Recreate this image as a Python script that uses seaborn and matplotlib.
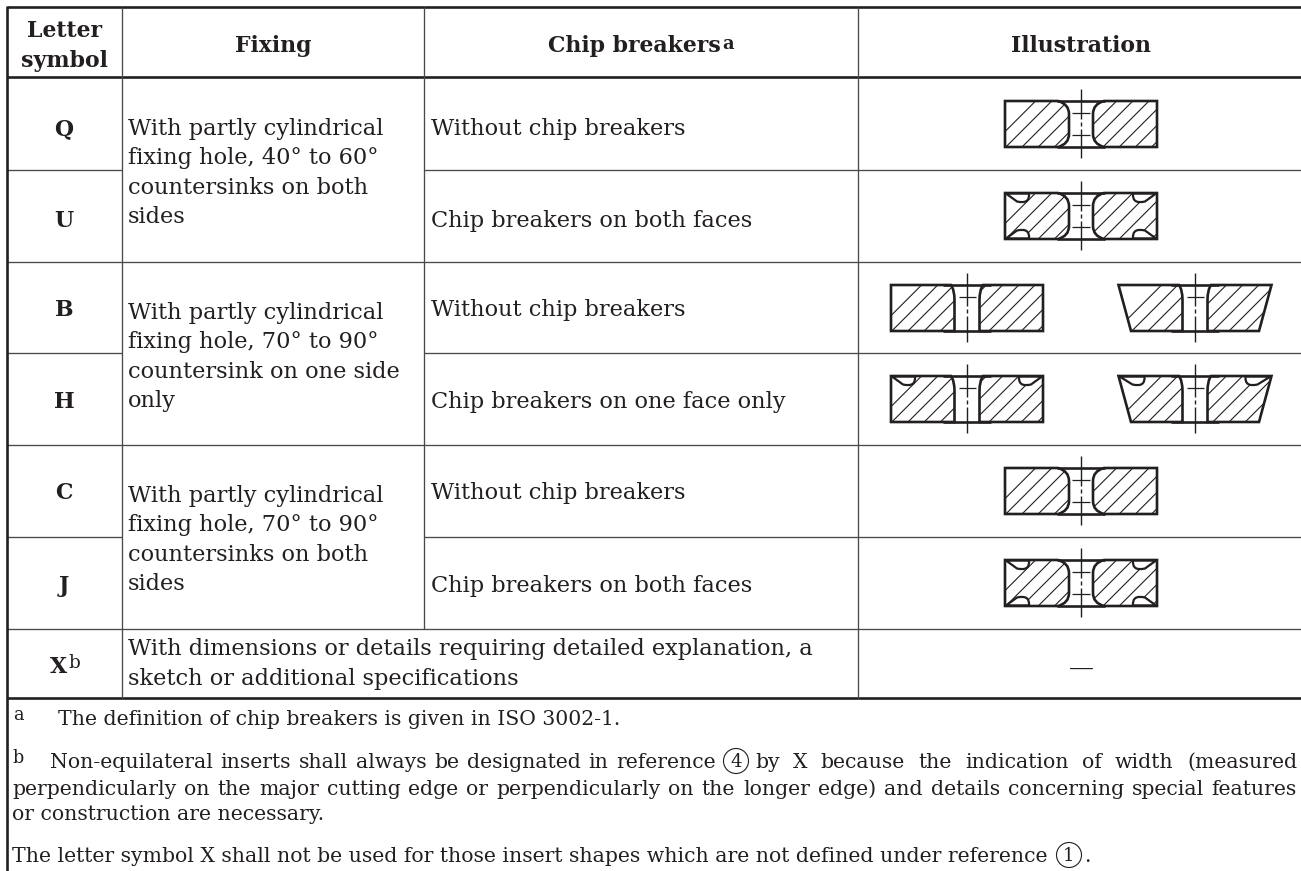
import matplotlib
matplotlib.use('Agg')
import matplotlib.pyplot as plt
import seaborn as sns
from matplotlib.path import Path
from matplotlib.patches import PathPatch, Ellipse

# table content
letters = ['Q', 'U', 'B', 'H', 'C', 'J']
breakers = ['Without chip breakers', 'Chip breakers on both faces',
            'Without chip breakers', 'Chip breakers on one face only',
            'Without chip breakers', 'Chip breakers on both faces']
fixing = [
    ['With partly cylindrical', 'fixing hole, 40° to 60°', 'countersinks on both', 'sides'],
    ['With partly cylindrical', 'fixing hole, 70° to 90°', 'countersink on one side', 'only'],
    ['With partly cylindrical', 'fixing hole, 70° to 90°', 'countersinks on both', 'sides'],
]
x_row_text = ['With dimensions or details requiring detailed explanation, a',
              'sketch or additional specifications']
note_a = 'The definition of chip breakers is given in ISO 3002-1.'
note_b1 = 'Non-equilateral inserts shall always be designated in reference'.split()
note_b2 = 'by X because the indication of width (measured'.split()
note_b3 = 'perpendicularly on the major cutting edge or perpendicularly on the longer edge) and details concerning special features'.split()
note_b4 = 'or construction are necessary.'
note_c = 'The letter symbol X shall not be used for those insert shapes which are not defined under reference'

# layout in image pixels
row_y = [77, 170, 262, 353, 445, 537, 629, 698]
col_x = [6.5, 122, 424, 858, 1301]
letter_base = [135, 227, 316, 408, 499, 592]
fix_base = [135, 319, 502]
INK = '#231f20'
RULE = '#4a4a4a'
BODY = 16.2
HEAD = 15.8
NOTE = 14.65

sns.set_theme(style='white')
plt.rcParams['font.family'] = ['DejaVu Serif']

fig, ax = plt.subplots(figsize=(13.01, 8.71), dpi=100)
ax.set_position([0, 0, 1, 1])
ax.set_xlim(0, 1301)
ax.set_ylim(871, 0)
ax.axis('off')


def stroke(xs, ys, lw=0.95, color=RULE, z=1):
    sns.lineplot(x=xs, y=ys, sort=False, estimator=None, color=color,
                 linewidth=lw, legend=False, ax=ax, zorder=z, solid_capstyle='butt')


def label(x, y, s, size=BODY, ha='left', weight='normal'):
    return ax.text(x, y, s, fontsize=size, ha=ha, va='baseline', color=INK, fontweight=weight)


def circled(cx, base, digit):
    ax.add_patch(Ellipse((cx, base - 7), 25, 25, fill=False, ec=INK, lw=0.8))
    label(cx, base - 1, digit, size=NOTE - 1.5, ha='center')


def justified(words, x0, x1, base, size=NOTE):
    # spread word gaps so the line fills x0..x1, like the justified source text
    rend = fig.canvas.get_renderer()
    widths = []
    for w in words:
        t = label(0, base, w, size=size)
        widths.append(t.get_window_extent(rend).width)
        t.remove()
    gap = (x1 - x0 - sum(widths)) / (len(words) - 1)
    x = x0
    for w, wd in zip(words, widths):
        label(x, base, w, size=size)
        x += wd + gap


def insert_paths(cx, top, hl_top, hl_bot, hole):
    # left and right material outlines of one section, hole curves included
    bot = top + 46
    paths = []
    for sgn in (-1, 1):
        if hole == 'double':
            verts = [(cx + sgn * 23, top), (cx + sgn * 12, top + 3), (cx + sgn * 12, top + 13),
                     (cx + sgn * 12, top + 33), (cx + sgn * 12, top + 43), (cx + sgn * 23, bot)]
            codes = [Path.MOVETO, Path.CURVE3, Path.CURVE3, Path.LINETO, Path.CURVE3, Path.CURVE3]
        else:
            verts = [(cx + sgn * 16, top), (cx + sgn * 12.5, top + 5), (cx + sgn * 12.5, top + 15),
                     (cx + sgn * 12.5, bot)]
            codes = [Path.MOVETO, Path.CURVE3, Path.CURVE3, Path.LINETO]
        verts += [(cx + sgn * hl_bot, bot), (cx + sgn * hl_top, top), verts[0]]
        codes += [Path.LINETO, Path.LINETO, Path.CLOSEPOLY]
        paths.append(Path(verts, codes))
    return paths


def notch(xc, yc, sx, sy, reach):
    # chip breaker groove at the corner (xc, yc)
    verts = [(xc, yc), (xc + sx * (reach - 12), yc + sy * 8), (xc + sx * (reach + 1), yc + sy * 11),
             (xc + sx * reach, yc), (xc, yc)]
    codes = [Path.MOVETO, Path.LINETO, Path.CURVE3, Path.CURVE3, Path.CLOSEPOLY]
    ax.add_patch(PathPatch(Path(verts, codes), fc='white', ec=INK, lw=1.6, zorder=3))


def insert(cx, top, hl_top=76, hl_bot=76, hole='double', grooves='none', spacing=16.2):
    bot = top + 46
    x_org = cx - hl_bot + 17
    for p in insert_paths(cx, top, hl_top, hl_bot, hole):
        ax.add_patch(PathPatch(p, fc='none', ec=INK, lw=1.9, zorder=4, joinstyle='miter'))
        clip = PathPatch(p, transform=ax.transData, fc='none', ec='none')
        ax.add_patch(clip)
        for k in range(-2, 16):
            x0 = x_org + k * spacing
            ln, = ax.plot([x0, x0 + 60], [bot, bot - 60], color=INK, lw=0.8, zorder=2)
            ln.set_clip_path(clip)
    # top and bottom edges run on across the hole
    stroke([cx - 24, cx + 24], [top, top], lw=1.9, color=INK, z=4)
    stroke([cx - 24, cx + 24], [bot, bot], lw=1.9, color=INK, z=4)
    reach = 23 if hl_top == hl_bot else 25
    if grooves in ('one', 'both'):
        notch(cx - hl_top + 1, top + 0.5, 1, 1, reach)
        notch(cx + hl_top - 1, top + 0.5, -1, 1, reach)
    if grooves == 'both':
        notch(cx - hl_bot + 1, bot - 0.5, 1, -1, reach)
        notch(cx + hl_bot - 1, bot - 0.5, -1, -1, reach)
    # centre line with its break, plus hole ticks
    mid = top + (23 if hole == 'double' else 26)
    stroke([cx, cx], [top - 12, mid - 5], lw=1.0, color=INK, z=5)
    stroke([cx, cx], [mid - 2, mid + 2], lw=1.0, color=INK, z=5)
    stroke([cx, cx], [mid + 5, bot + 11], lw=1.0, color=INK, z=5)
    ticks = [top + 12, top + 34] if hole == 'double' else [top + 12]
    for ty in ticks:
        half = 9 if hole == 'double' else 8.5
        stroke([cx - half, cx + half], [ty, ty], lw=0.9, color=INK, z=5)


# rules
stroke([col_x[0], 1301], [7, 7], lw=1.9, color=INK)
stroke([col_x[0], 1301], [row_y[0], row_y[0]], lw=1.9, color=INK)
stroke([col_x[0], 1301], [row_y[7], row_y[7]], lw=1.9, color=INK)
stroke([col_x[0], 1301], [row_y[6], row_y[6]])
for r in (row_y[2], row_y[4]):
    stroke([col_x[0], 1301], [r, r])
for r in (row_y[1], row_y[3], row_y[5]):
    stroke([col_x[0], col_x[1]], [r, r])
    stroke([col_x[2], 1301], [r, r])
stroke([col_x[0], col_x[0]], [6, 871], lw=1.9, color=INK)
stroke([col_x[1], col_x[1]], [7, row_y[7]])
stroke([col_x[2], col_x[2]], [7, row_y[6]])
stroke([col_x[3], col_x[3]], [7, row_y[7]])

# header
label(64, 37, 'Letter', size=HEAD, ha='center', weight='bold')
label(64, 67, 'symbol', size=HEAD, ha='center', weight='bold')
label(273, 52, 'Fixing', size=HEAD, ha='center', weight='bold')
label(634, 52, 'Chip breakers', size=HEAD, ha='center', weight='bold')
label(722, 49, 'a', size=HEAD - 3, weight='bold')
label(1081, 52, 'Illustration', size=HEAD, ha='center', weight='bold')

# body
for s, c, base in zip(letters, breakers, letter_base):
    label(64, base, s, size=HEAD, ha='center', weight='bold')
    label(431, base, c)
for lines, base in zip(fixing, fix_base):
    for i, s in enumerate(lines):
        label(128, base + i * 29.3, s)
label(50, 673, 'X', size=HEAD, weight='bold')
label(68, 668, 'b', size=BODY - 3)
label(128, 655, x_row_text[0])
label(128, 685, x_row_text[1])
label(1081, 675, '—', size=18, ha='center')

# illustrations
insert(1081, 101)
insert(1081, 193, grooves='both')
insert(967, 285, hole='single')
insert(1195, 285, hl_top=76.5, hl_bot=64, hole='single')
insert(967, 376, hole='single', grooves='one')
insert(1195, 376, hl_top=76.5, hl_bot=64, hole='single', grooves='one')
insert(1081, 468)
insert(1081, 560, grooves='both')

# notes
label(13, 720, 'a', size=NOTE - 2)
label(58, 725, note_a, size=NOTE)
label(13, 763, 'b', size=NOTE - 2)
justified(note_b1, 50, 716, 768)
circled(736, 768, '4')
justified(note_b2, 755, 1297, 768)
justified(note_b3, 12, 1297, 795)
label(12, 820, note_b4, size=NOTE)
label(12, 862, note_c, size=NOTE)
circled(1069, 862, '1')
label(1084, 862, '.', size=NOTE)

plt.savefig('out.png', dpi=100)
plt.close()
